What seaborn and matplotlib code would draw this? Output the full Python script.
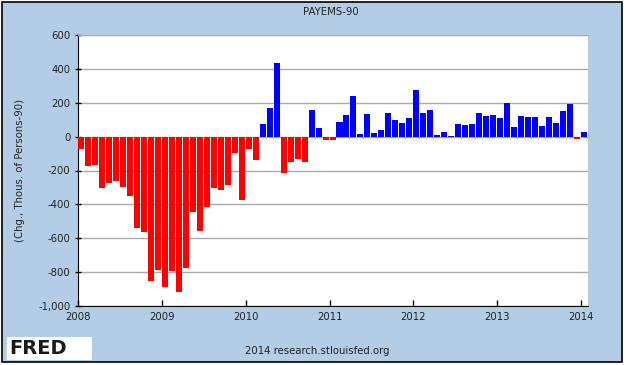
import pandas as pd
import matplotlib
matplotlib.use('Agg')
import matplotlib.pyplot as plt
import seaborn as sns
from matplotlib.patches import Rectangle
from matplotlib.ticker import FuncFormatter

# Dados: variacao mensal (milhares), jan/2008 a jan/2014
valores = [-71, -173, -167, -303, -274, -262, -298, -351, -540, -564, -853, -788,
           -889, -794, -918, -776, -445, -558, -416, -303, -315, -286, -97, -374,
           -73, -138, 73, 167, 433, -215, -150, -132, -150, 156, 49, -20,
           -20, 85, 126, 238, 14, 132, 20, 37, 138, 97, 79, 108,
           274, 138, 156, 8, 26, 2, 73, 67, 73, 138, 120, 126,
           108, 199, 55, 120, 114, 114, 61, 114, 79, 150, 191, -16,
           26]
meses = pd.date_range('2008-01-01', periods=len(valores), freq='MS').strftime('%Y-%m')
anos = ['2008', '2009', '2010', '2011', '2012', '2013', '2014']
y_ticks = [-1000, -800, -600, -400, -200, 0, 200, 400, 600]

df = pd.DataFrame({'mes': meses, 'valor': valores})
df['sinal'] = ['neg' if v < 0 else 'pos' for v in df['valor']]

sns.set_style('white')
plt.rcParams['font.family'] = ['DejaVu Sans']
plt.rcParams['axes.unicode_minus'] = False

azul_fundo = '#B4CDE6'
fs = 7.3
fig = plt.figure(figsize=(6.26, 3.65), dpi=100, facecolor='white')
fig.add_artist(Rectangle((2 / 626, 3 / 365), 620 / 626, 360 / 365, transform=fig.transFigure,
                         facecolor=azul_fundo, edgecolor='black', linewidth=1.2, zorder=-10))
ax = fig.add_axes([78 / 626, 59 / 365, 510 / 626, 271 / 365])
ax.set_facecolor('white')

largura = 0.86
sns.barplot(data=df, x='mes', y='valor', hue='sinal',
            palette={'neg': '#FF0000', 'pos': '#0000FF'},
            width=largura, legend=False, ax=ax, zorder=3, saturation=1,
            linewidth=0, edgecolor='none')

off = largura / 2
ax.set_xlim(-off, len(valores) - off)
ax.set_ylim(-1000, 600)
ax.set_xticks([12 * i - off for i in range(len(anos))])
ax.set_xticklabels(anos)
ax.set_yticks(y_ticks)
ax.yaxis.set_major_formatter(FuncFormatter(lambda v, p: f'{v:,.0f}'))
ax.set_xlabel('')
ax.set_ylabel('')

ax.grid(axis='y', color='#AAAAAA', linewidth=1, zorder=0)
ax.grid(axis='x', visible=False)
ax.spines['right'].set_visible(False)
ax.spines['top'].set_color('#AAAAAA')
ax.spines['left'].set_color('black')
ax.spines['bottom'].set_color('black')
ax.spines['bottom'].set_zorder(5)
ax.tick_params(axis='y', direction='inout', length=5, width=1, color='black',
               labelsize=fs, labelcolor='#222222', pad=3, left=True)
ax.tick_params(axis='x', direction='in', length=4, width=1, color='black',
               labelsize=fs, labelcolor='#222222', pad=4, bottom=True)

fig.text(331 / 626, 1 - 12 / 365, 'PAYEMS-90', ha='center', va='center', fontsize=fs, color='#222222')
fig.text(20 / 626, (59 + 271 / 2) / 365, '(Chg., Thous. of Persons-90)', rotation=90,
         ha='center', va='center', fontsize=fs, color='#222222')
fig.text(317 / 626, 14 / 365, '2014 research.stlouisfed.org', ha='center', va='center',
         fontsize=fs, color='#222222')

# logo FRED
fig.add_artist(Rectangle((7 / 626, 5 / 365), 85 / 626, 23 / 365, transform=fig.transFigure,
                         facecolor='white', edgecolor='none', zorder=-5))
fig.text(9 / 626, 16 / 365, 'FRED', ha='left', va='center', fontsize=14, fontweight='heavy',
         color='#1a1a1a')

plt.savefig('out.png', dpi=100, facecolor='white')
